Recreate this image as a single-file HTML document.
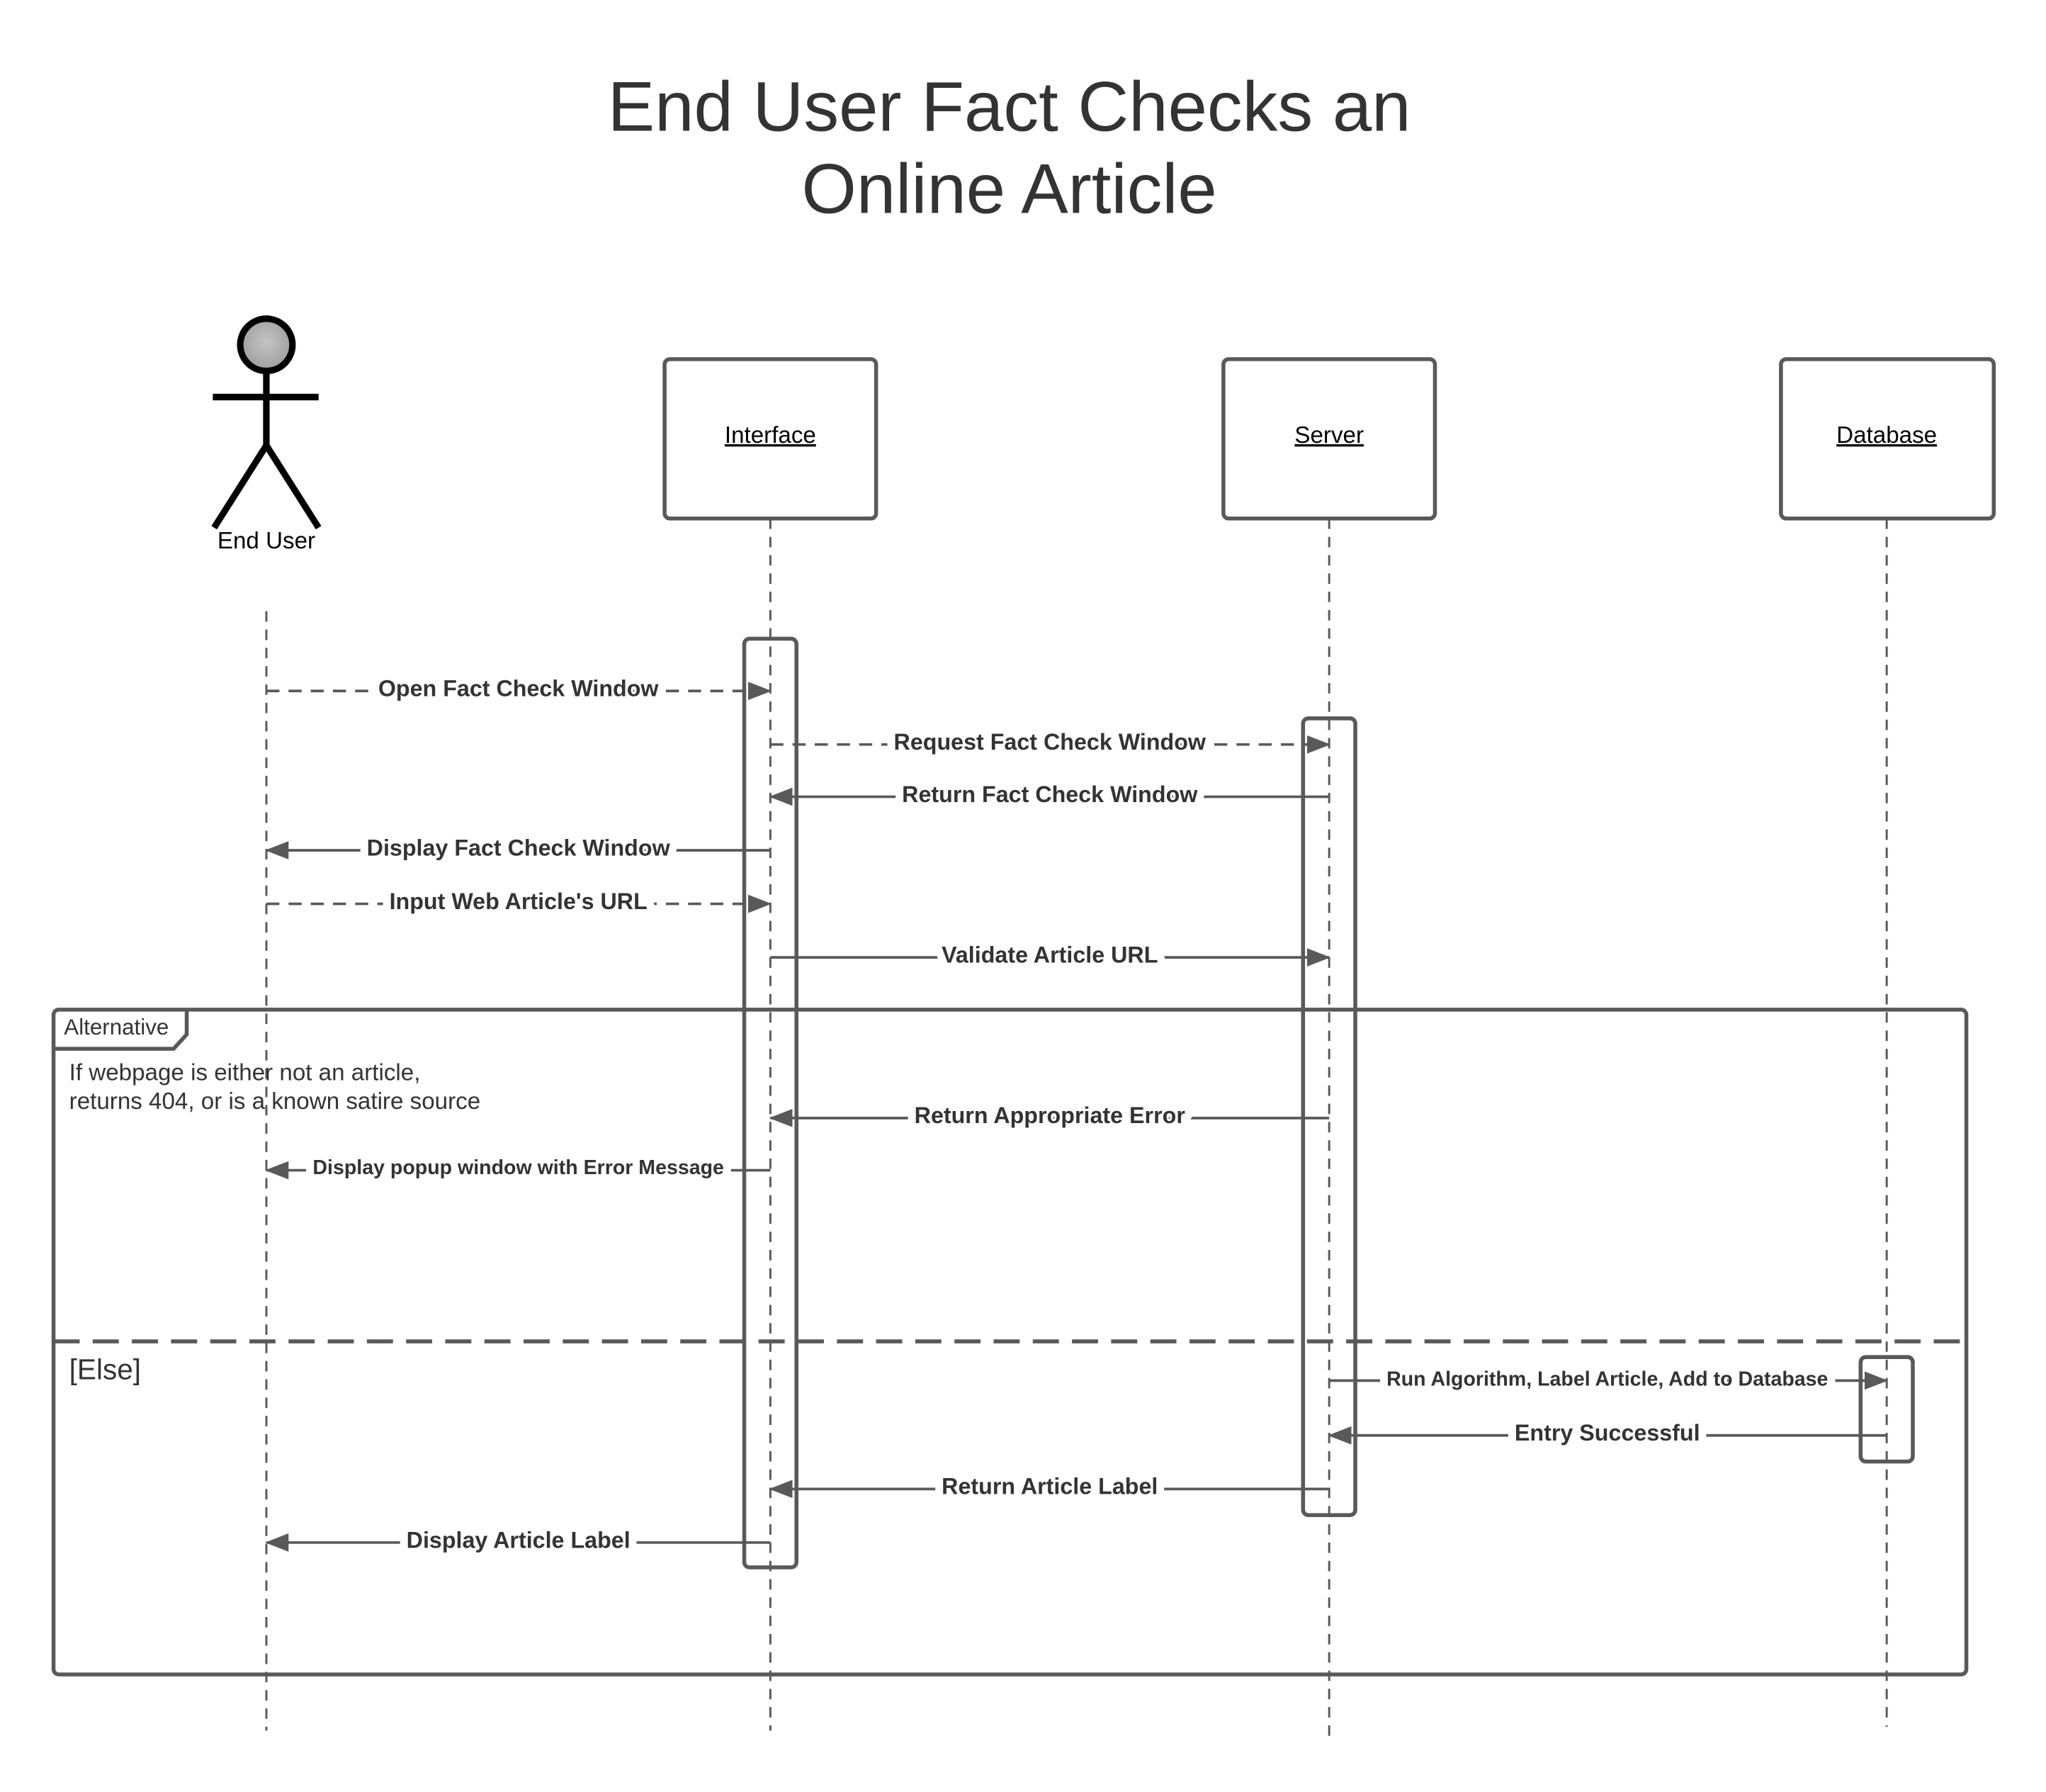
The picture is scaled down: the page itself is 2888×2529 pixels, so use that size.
<!DOCTYPE html>
<html><head><meta charset="utf-8"><style>
html,body{margin:0;padding:0;background:#fff;}
svg{display:block;}
text{font-family:"Liberation Sans",Arial,sans-serif;}
.m{font-weight:bold;font-size:17.5px;fill:#333;text-anchor:middle;}
</style></head><body>
<svg width="2888" height="2529" viewBox="0 0 1567 1372" preserveAspectRatio="none" xmlns="http://www.w3.org/2000/svg">
<defs>
<radialGradient id="hg" cx="50%" cy="45%" r="60%"><stop offset="0" stop-color="#c4c4c4"/><stop offset="1" stop-color="#9a9a9a"/></radialGradient>
<marker id="ar" markerWidth="18" markerHeight="14" refX="17" refY="7" orient="auto" markerUnits="userSpaceOnUse"><path d="M0,0 L18,7 L0,14 Z" fill="#595959"/></marker>
</defs>
<rect width="1567" height="1372" fill="#fff"/>
<g fill="#333" font-size="54" text-anchor="middle">
<text x="773" y="100">End User Fact Checks an</text>
<text x="773" y="163">Online Article</text>
</g>
<g stroke="#000" stroke-width="5" fill="none">
<circle cx="204" cy="264" r="20" fill="url(#hg)"/>
<line x1="204" y1="284" x2="204" y2="341"/>
<line x1="163" y1="304" x2="244" y2="304"/>
<line x1="204" y1="341" x2="164" y2="404"/>
<line x1="204" y1="341" x2="244" y2="404"/>
</g>
<text x="204" y="420" font-size="18" text-anchor="middle" fill="#000">End User</text>
<g stroke="#595959" stroke-width="3" fill="#fff">
<rect x="509" y="275" width="162" height="122" rx="4"/>
<rect x="937" y="275" width="162" height="122" rx="4"/>
<rect x="1364" y="275" width="163" height="122" rx="4"/>
</g>
<g font-size="18" text-anchor="middle" fill="#000" text-decoration="underline">
<text x="590" y="339">Interface</text>
<text x="1018" y="339">Server</text>
<text x="1445" y="339">Database</text>
</g>
<g stroke="#595959" stroke-width="1.6" stroke-dasharray="8 6">
<line x1="204" y1="468" x2="204" y2="1325"/>
<line x1="590" y1="397" x2="590" y2="1325"/>
<line x1="1018" y1="397" x2="1018" y2="1332"/>
<line x1="1445" y1="397" x2="1445" y2="1322"/>
</g>
<g stroke="#595959" stroke-width="3" fill="none">
<rect x="41" y="773" width="1465" height="509" rx="4"/>
<path d="M41,803 L133,803 L143,792 L143,773" />
<line x1="41" y1="1027" x2="1506" y2="1027" stroke-dasharray="20 10"/>
</g>
<text x="49" y="792" font-size="17" fill="#333">Alternative</text>
<text x="53" y="827" font-size="18" fill="#333">If webpage is either not an article,</text>
<text x="53" y="849" font-size="18" fill="#333">returns 404, or is a known satire source</text>
<text x="53" y="1056" font-size="22" fill="#333">[Else]</text>
<g stroke="#595959" stroke-width="3" fill="none">
<rect x="570" y="489" width="40" height="711" rx="4"/>
<rect x="998" y="550" width="40" height="610" rx="4"/>
<rect x="1425" y="1039" width="40" height="80" rx="4"/>
</g>
<g stroke="#595959" stroke-width="2" fill="none" marker-end="url(#ar)">
<line x1="204" y1="529" x2="590" y2="529" stroke-dasharray="10 7"/>
<line x1="590" y1="570" x2="1018" y2="570" stroke-dasharray="10 7"/>
<line x1="1018" y1="610" x2="590" y2="610"/>
<line x1="590" y1="651" x2="204" y2="651"/>
<line x1="204" y1="692" x2="590" y2="692" stroke-dasharray="10 7"/>
<line x1="590" y1="733" x2="1018" y2="733"/>
<line x1="1018" y1="856" x2="590" y2="856"/>
<line x1="590" y1="896" x2="204" y2="896"/>
<line x1="1018" y1="1057" x2="1445" y2="1057"/>
<line x1="1445" y1="1099" x2="1018" y2="1099"/>
<line x1="1018" y1="1140" x2="590" y2="1140"/>
<line x1="590" y1="1181" x2="204" y2="1181"/>
</g>
<g class="m" paint-order="stroke" stroke="#fff" stroke-width="12" stroke-linejoin="round">
<text class="m" x="397" y="533">Open Fact Check Window</text>
<text class="m" x="804" y="574">Request Fact Check Window</text>
<text class="m" x="804" y="614">Return Fact Check Window</text>
<text class="m" x="397" y="655">Display Fact Check Window</text>
<text class="m" x="397" y="696">Input Web Article's URL</text>
<text class="m" x="804" y="737">Validate Article URL</text>
<text class="m" x="804" y="860">Return Appropriate Error</text>
<text class="m" x="397" y="899" style="font-size:15.5px">Display popup window with Error Message</text>
<text class="m" x="1231" y="1061" style="font-size:15.5px">Run Algorithm, Label Article, Add to Database</text>
<text class="m" x="1231" y="1103">Entry Successful</text>
<text class="m" x="804" y="1144">Return Article Label</text>
<text class="m" x="397" y="1185">Display Article Label</text>
</g>
</svg>
</body></html>
